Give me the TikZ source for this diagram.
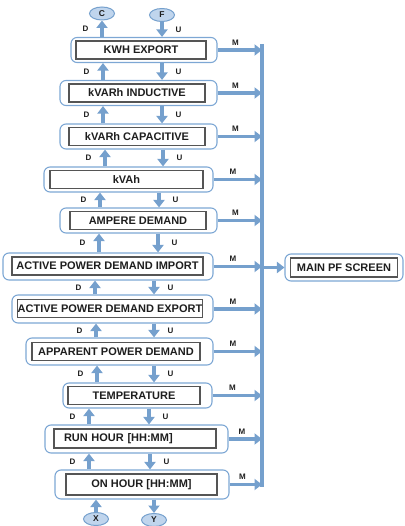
\documentclass[tikz,border=0pt]{standalone}
\usepackage{fontspec}
\setmainfont{Liberation Sans}
\usetikzlibrary{arrows.meta,positioning,shapes.geometric}
\definecolor{pfblue}{RGB}{117,160,205}
\definecolor{pfframe}{RGB}{125,167,212}
\definecolor{pflight}{RGB}{192,213,237}
\definecolor{pfgray}{RGB}{85,85,85}
\definecolor{pftext}{RGB}{30,30,30}

\begin{document}
\begin{tikzpicture}[x=1pt,y=-1pt,
    every node/.style={font=\bfseries,text=pftext},
    frame/.style={draw=pfframe,line width=1.1pt,rounded corners=6pt,
                  minimum height=25pt,inner sep=0pt},
    screen/.style={draw=pfgray,line width=1.2pt,minimum height=18pt,inner sep=0pt,
                   font=\fontsize{11}{11}\selectfont\bfseries},
    flow/.style={pfblue,line width=3.1pt,-{Triangle[length=7.5pt,width=11pt]}},
    tag/.style={font=\fontsize{8}{8}\selectfont\bfseries,inner sep=1pt},
    endkey/.style={ellipse,draw=pfblue,line width=1pt,fill=pflight,
                   minimum width=25pt,minimum height=13pt,inner sep=0pt,
                   font=\fontsize{8.5}{8.5}\selectfont\bfseries}]
  \useasboundingbox (0,0) rectangle (404,526);

  % screens, outer frame then display
  \node[frame,minimum width=146pt] (kwh) at (144,50) {};
  \node[screen,minimum width=130pt] (kwhin) at (141,50) {KWH EXPORT};
  \node[frame,minimum width=157pt] (kvarind) at (138.5,93) {};
  \node[screen,minimum width=136pt] (kvarindin) at (137,93) {kVARh INDUCTIVE};
  \node[frame,minimum width=157pt] (kvarcap) at (138.5,136.5) {};
  \node[screen,minimum width=136pt] (kvarcapin) at (137,136.5) {kVARh CAPACITIVE};
  \node[frame,minimum width=169pt] (kvah) at (128.5,179.5) {};
  \node[screen,minimum width=153pt] (kvahin) at (126.5,179.5) {kVAh};
  \node[frame,minimum width=157pt] (ampd) at (138.5,220.5) {};
  \node[screen,minimum width=136pt] (ampdin) at (138,220.5) {AMPERE DEMAND};
  \node[frame,minimum width=210pt,minimum height=27pt] (apdimp) at (108,266.5) {};
  \node[screen,minimum width=191pt] (apdimpin) at (107.5,266) {ACTIVE POWER DEMAND IMPORT};
  \node[frame,minimum width=201pt,minimum height=28pt] (apdexp) at (112.5,309) {};
  \node[screen,minimum width=184pt] (apdexpin) at (110,308.5) {ACTIVE POWER DEMAND EXPORT};
  \node[frame,minimum width=187pt,minimum height=27pt] (appd) at (119.5,351.5) {};
  \node[screen,minimum width=168pt] (appdin) at (116,351.5) {APPARENT POWER DEMAND};
  \node[frame,minimum width=149pt] (temp) at (137.5,395.5) {};
  \node[screen,minimum width=132pt] (tempin) at (134,395.5) {TEMPERATURE};
  \node[frame,minimum width=183pt,minimum height=28pt] (runh) at (136.5,439) {};
  \node[screen,text width=142pt,align=left,inner xsep=10pt,minimum height=19pt]
       (runhin) at (135,438.5) {RUN HOUR [HH:MM]};
  \node[frame,minimum width=174pt,minimum height=29pt] (onh) at (142,484.5) {};
  \node[screen,minimum width=151pt,minimum height=21pt] (onhin) at (141.5,484.5) {ON HOUR [HH:MM]};
  \node[frame,minimum width=118pt,minimum height=27pt] (mainpf) at (344,267.5) {};
  \node[screen,minimum width=107pt,minimum height=19pt] (mainpfin) at (344,267.5) {MAIN PF SCREEN};

  % exit keys
  \node[endkey] (ckey) at (102,13.5) {C};
  \node[endkey] (fkey) at (162,15) {F};
  \node[endkey] (xkey) at (96,519) {X};
  \node[endkey] (ykey) at (154,520) {Y};

  \draw[flow] (kwh.north -| ckey.south) -- (ckey.south) node[midway,tag,left=11pt]{D};
  \draw[flow] (fkey.south) -- (kwh.north -| fkey.south) node[midway,tag,right=11pt]{U};
  \draw[flow] (xkey.north) -- (onh.south -| xkey.north);
  \draw[flow] (onh.south -| ykey.north) -- (ykey.north);

  % down / up keys between screens
  \foreach \hi/\lo/\xd/\xu in {kwh/kvarind/103/162,kvarind/kvarcap/103/162,
      kvarcap/kvah/105/163,kvah/ampd/100/159,ampd/apdimp/99/158,
      apdimp/apdexp/95/154,apdexp/appd/96/154,appd/temp/97/154,
      temp/runh/89/149,runh/onh/89/150}{
    \draw[flow] (\lo.north -| \xd,0) -- (\hi.south -| \xd,0) node[midway,tag,left=11pt]{D};
    \draw[flow] (\hi.south -| \xu,0) -- (\lo.north -| \xu,0) node[midway,tag,right=11pt]{U};
  }

  % M key to main screen
  \coordinate (bustop) at (262,44);
  \coordinate (busbot) at (262,487);
  \draw[pfblue,line width=3.8pt] (bustop) -- (busbot);
  \foreach \s in {kwh,kvarind,kvarcap,kvah,ampd,apdimp,apdexp,appd,temp,runh,onh}
    \draw[flow] (\s.east) -- (\s.east -| bustop) node[pos=0.4,tag,above=2pt]{M};
  \draw[flow] (mainpf.west -| bustop) -- (mainpf.west);
\end{tikzpicture}
\end{document}
